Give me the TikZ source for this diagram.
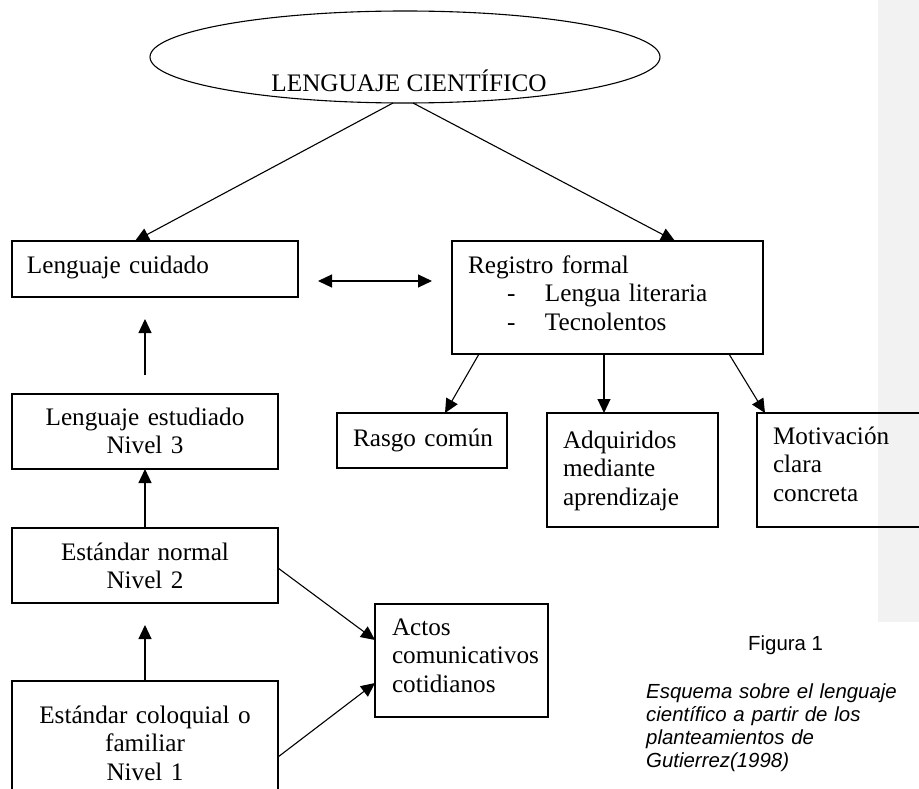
\documentclass[tikz,border=0pt]{standalone}
\usepackage{fontspec}
\setmainfont{Liberation Serif}
\newfontfamily\capfont{Liberation Sans}
\usetikzlibrary{arrows.meta,shapes.geometric,calc}
\definecolor{barcol}{HTML}{F2F2F2}
\tikzset{
  mainfont/.style={font=\fontsize{25.2}{28.6}\selectfont},
  bx/.style={draw, line width=1.1pt, anchor=north west, inner ysep=0pt, outer sep=0pt, mainfont},
  lbox/.style={bx, align=left, inner xsep=15pt},
  cbox/.style={bx, align=center, inner xsep=5pt},
  arr/.style={line width=1.1pt, -{Triangle[length=14pt,width=13pt]}},
  arrtwo/.style={line width=1.1pt, {Triangle[length=14pt,width=13pt]}-{Triangle[length=14pt,width=13pt]}}
}
\begin{document}
\begin{tikzpicture}[x=1pt,y=-1pt]
\useasboundingbox (0,0) rectangle (919,789);
\fill[barcol] (878,0) rectangle (919,622);

% ellipse
\node[draw, ellipse, line width=1.1pt, minimum width=510pt, minimum height=92pt, inner sep=0pt, outer sep=0pt] (lc) at (405,57) {};
\node[anchor=base, mainfont, inner sep=0pt] (lctext) at (409,92) {LENGUAJE CIENTÍFICO};

% boxes
\node[lbox, text width=256pt, text height=32pt, text depth=24pt] (cuid) at (12,241) {Lenguaje cuidado};
\node[lbox, inner xsep=16pt, text width=279pt, text height=32pt, text depth=81pt] (reg) at (452,241)
  {Registro formal\\\hspace*{39pt}\makebox[38pt][l]{-}Lengua literaria\\\hspace*{39pt}\makebox[38pt][l]{-}Tecnolentos};
\node[lbox, inner xsep=16pt, text width=138pt, text height=33pt, text depth=22pt] (rasgo) at (337,413) {\mbox{Rasgo común}};
\node[lbox, inner xsep=16pt, text width=139pt, text height=35pt, text depth=79pt] (adq) at (547,413) {Adquiridos\\mediante\\aprendizaje};
\node[lbox, inner xsep=16pt, text width=168pt, text height=31pt, text depth=83pt] (mot) at (757,413) {Motivación\\clara\\concreta};
\node[cbox, text width=256pt, text height=31pt, text depth=44pt] (est) at (12,394) {Lenguaje estudiado\\Nivel 3};
\node[cbox, text width=256pt, text height=32pt, text depth=43pt] (norm) at (12,528) {Estándar normal\\Nivel 2};
\node[cbox, text width=256pt, text height=42pt, text depth=88pt] (colo) at (12,681) {Estándar coloquial o\\familiar\\Nivel 1};
\node[lbox, inner xsep=17pt, text width=139pt, text height=31pt, text depth=82pt] (actos) at (375,604) {Actos\\comunicativos\\cotidianos};

% connectors
\draw[arr] ([xshift=-12pt]lc.south) -- ($(cuid.north west)+(123,0)$);
\draw[arr] ([xshift=8pt]lc.south) -- ($(reg.north west)+(223,0)$);
\draw[arrtwo] ($(cuid.north east)+(20,40)$) -- ($(reg.north west)+(-20,40)$);
\draw[arr] ($(est.north)+(0,-19)$) -- ($(est.north |- cuid.south)+(0,22)$);
\draw[arr] (norm.north) -- (est.south);
\draw[arr] (colo.north) -- ($(norm.south)+(0,22)$);
\draw[arr] ($(norm.north east)+(0,40)$) -- ($(actos.north west)+(0,36)$);
\draw[arr] ($(colo.north east)+(0,76)$) -- ($(actos.north west)+(0,79)$);
\draw[arr] ($(reg.south west)+(27,0)$) -- ($(rasgo.north west)+(108,0)$);
\draw[arr] ($(reg.south west)+(152,0)$) -- ($(adq.north west)+(57,0)$);
\draw[arr] ($(reg.south west)+(277,0)$) -- ($(mot.north west)+(8,0)$);

% caption
\node[anchor=base west, inner sep=0pt, font=\capfont\fontsize{20.4}{23.5}\selectfont] (fig) at (748,650) {Figura 1};
\node[anchor=north west, inner sep=0pt, align=left, text width=265pt, text height=15pt, font=\capfont\itshape\fontsize{20.4}{23.2}\selectfont] (capt) at (646,683)
  {Esquema sobre el lenguaje\\científico a partir de los\\planteamientos de\\Gutierrez(1998)};
\end{tikzpicture}
\end{document}
